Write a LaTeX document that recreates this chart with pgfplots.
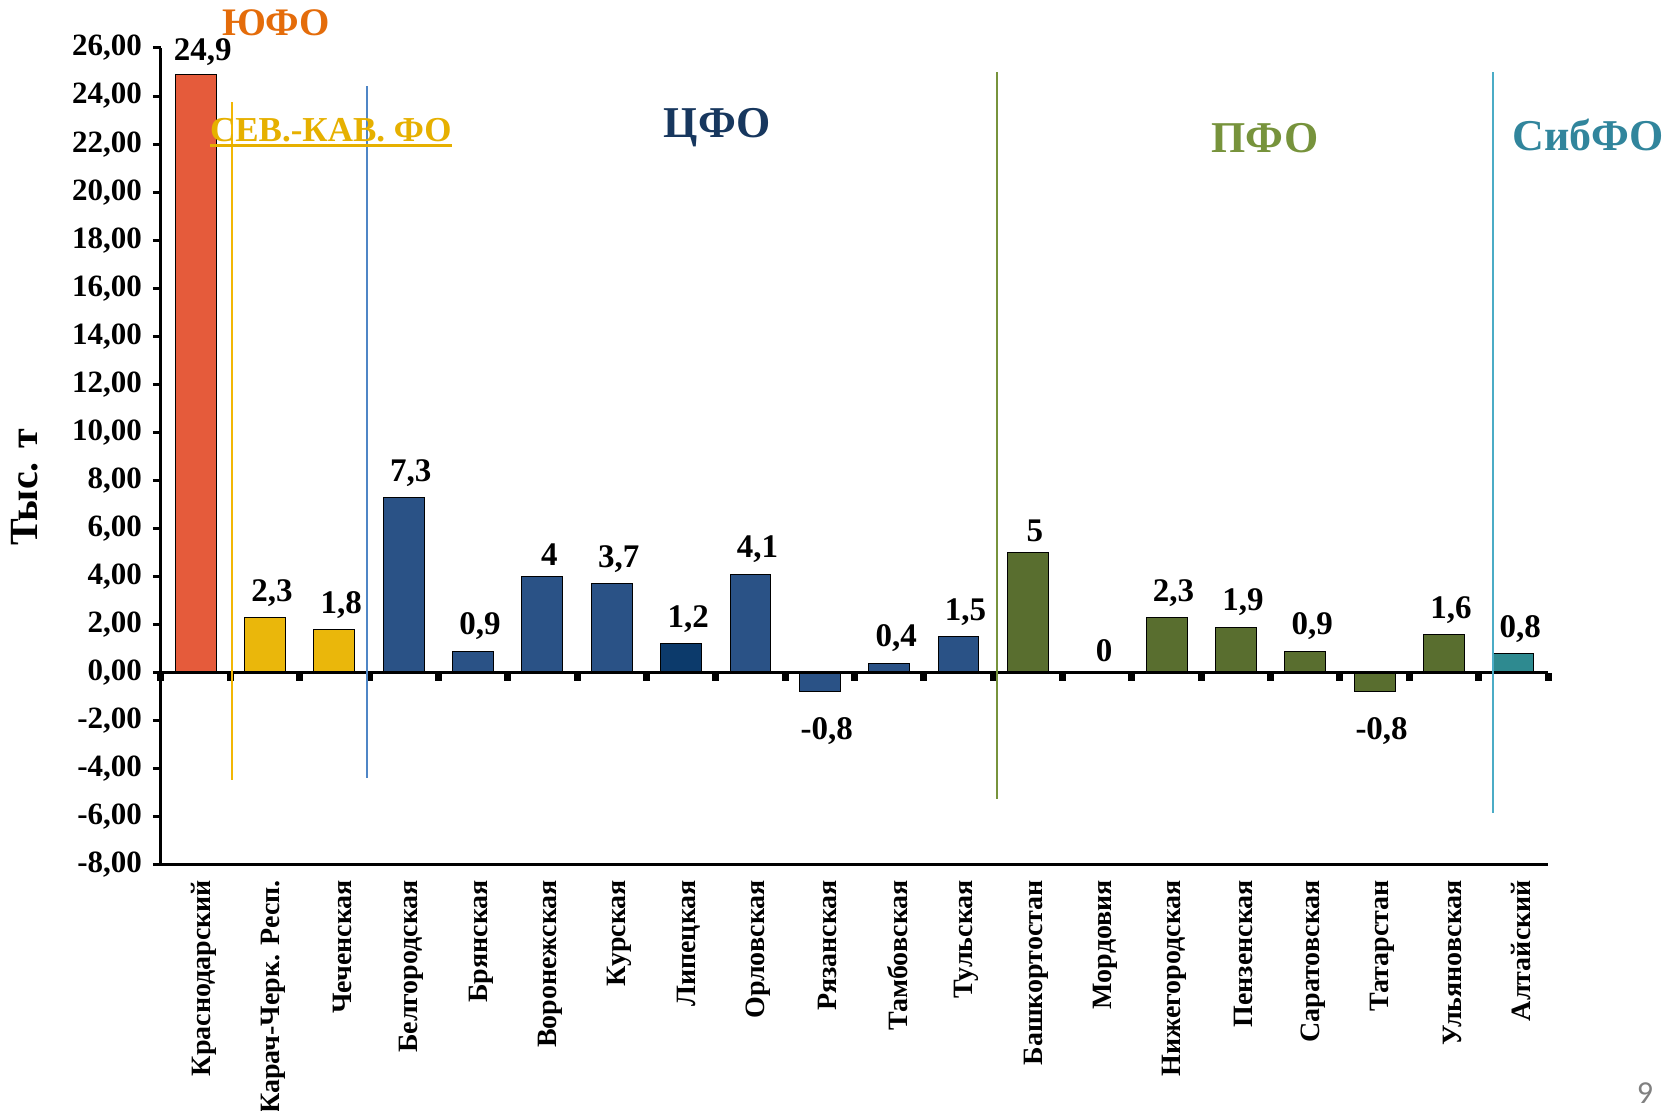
\documentclass[border=0pt]{standalone}
\usepackage{fontspec}
\setmainfont{Liberation Serif}
\newfontfamily\pagenumfont{Carlito}
\usepackage{pgfplots}
\pgfplotsset{compat=1.18}
\definecolor{cOrange}{HTML}{E55B3B}
\definecolor{cYellow}{HTML}{EAB70B}
\definecolor{cBlue}{HTML}{2A5286}
\definecolor{cNavy}{HTML}{0C3A6B}
\definecolor{cGreen}{HTML}{596E2F}
\definecolor{cTeal}{HTML}{2E8A90}
\definecolor{lYellow}{HTML}{F2B705}
\definecolor{lBlue}{HTML}{4F86C6}
\definecolor{lGreen}{HTML}{77933C}
\definecolor{lTeal}{HTML}{4BACC6}
\definecolor{tOrange}{HTML}{E46C0A}
\definecolor{tGold}{HTML}{E6B000}
\definecolor{tNavy}{HTML}{17375E}
\definecolor{tGreen}{HTML}{77933C}
\definecolor{tTeal}{HTML}{31859C}
\begin{document}
\begin{tikzpicture}
\useasboundingbox (-80.5pt,-123pt) rectangle (750.5pt,432.5pt);
\begin{axis}[
  at={(0,0)}, anchor=south west,
  scale only axis, width=693.5pt, height=408.5pt,
  xmin=-0.5, xmax=19.5, ymin=-8, ymax=26,
  axis x line*=bottom, axis y line*=left,
  axis line style={line width=1.5pt},
  clip=false,
  ybar, bar shift=0pt, bar width=0.59,
  /pgf/number format/use comma,
  /pgf/number format/assume math mode=true,
  ytick={-8,-6,...,26},
  ytick style={line width=1.5pt, black},
  major tick length=4pt,
  tick align=outside,
  yticklabel style={font=\bfseries\fontsize{15.5}{17}\selectfont, xshift=-2pt,
    /pgf/number format/.cd, fixed, fixed zerofill, precision=2, use comma, assume math mode=true},
  xtick={0,...,19},
  xtick style={draw=none},
  xticklabels={Краснодарский, Карач-Черк. Респ., Чеченская, Белгородская, Брянская, Воронежская, Курская, Липецкая, Орловская, Рязанская, Тамбовская, Тульская, Башкортостан, Мордовия, Нижегородская, Пензенская, Саратовская, Татарстан, Ульяновская, Алтайский},
  xticklabel style={font=\bfseries\fontsize{14}{16}\selectfont, rotate=90, anchor=east, yshift=-4pt},
  ylabel={Тыс. т},
  ylabel style={font=\bfseries\fontsize{20}{24}\selectfont, at={(axis description cs:-0.098,0.462)}, anchor=center},
  nodes near coords,
  every node near coord/.append style={font=\bfseries\fontsize{16.5}{18}\selectfont, text=black, xshift=3.5pt},
  every axis plot/.append style={draw=black, line width=0.5pt},
]
\addplot[fill=cOrange, nodes near coords style={yshift=1pt}] coordinates {(0,24.9)};
\addplot[fill=cYellow, nodes near coords style={yshift=2pt}] coordinates {(1,2.3) (2,1.8)};
\addplot[fill=cBlue, nodes near coords style={yshift=2pt}] coordinates {(3,7.3) (4,0.9) (5,4) (6,3.7) (8,4.1) (10,0.4) (11,1.5)};
\addplot[fill=cNavy, nodes near coords style={yshift=2pt}] coordinates {(7,1.2)};
\addplot[fill=cBlue, nodes near coords style={yshift=-9pt}] coordinates {(9,-0.8)};
\addplot[fill=cGreen, nodes near coords style={yshift=2pt}] coordinates {(12,5) (13,0) (14,2.3) (15,1.9) (16,0.9) (18,1.6)};
\addplot[fill=cGreen, nodes near coords style={yshift=-9pt}] coordinates {(17,-0.8)};
\addplot[fill=cTeal, nodes near coords style={yshift=2pt}] coordinates {(19,0.8)};
\draw[line width=1.5pt, black] (axis cs:-0.5,0) -- (axis cs:19.5,0);
\pgfplotsinvokeforeach{-0.5,0.5,1.5,2.5,3.5,4.5,5.5,6.5,7.5,8.5,9.5,10.5,11.5,12.5,13.5,14.5,15.5,16.5,17.5,18.5,19.5}{
  \draw[line width=3.5pt, black] (axis cs:#1,0) -- ([yshift=-4pt]axis cs:#1,0);
}
\draw[lYellow, line width=1pt] (axis cs:0.525,23.75) -- (axis cs:0.525,-4.47);
\draw[lBlue, line width=1pt] (axis cs:2.47,24.4) -- (axis cs:2.47,-4.38);
\draw[lGreen, line width=1pt] (axis cs:11.55,25.0) -- (axis cs:11.55,-5.26);
\draw[lTeal, line width=1pt] (axis cs:18.7,25.0) -- (axis cs:18.7,-5.85);
\node[text=tOrange, font=\bfseries\fontsize{19.5}{24}\selectfont] at (axis cs:1.16,27.05) {ЮФО};
\node[text=tGold, font=\bfseries\fontsize{17.5}{22}\selectfont, inner xsep=0pt, name=skfo] at (axis cs:1.95,22.6) {СЕВ.-КАВ. ФО};
\node[text=tNavy, font=\bfseries\fontsize{22}{26}\selectfont] at (axis cs:7.52,22.7) {ЦФО};
\node[text=tGreen, font=\bfseries\fontsize{22}{26}\selectfont] at (axis cs:15.42,22.25) {ПФО};
\node[text=tTeal, font=\bfseries\fontsize{22}{26}\selectfont] at (axis cs:20.08,22.4) {СибФО};
\end{axis}
\draw[tGold, line width=1.5pt] ([yshift=-2pt]skfo.base west) -- ([yshift=-2pt]skfo.base east);
\node[text=gray] at (742pt,-114pt) {\pagenumfont\fontsize{16}{18}\selectfont 9};
\end{tikzpicture}
\end{document}
